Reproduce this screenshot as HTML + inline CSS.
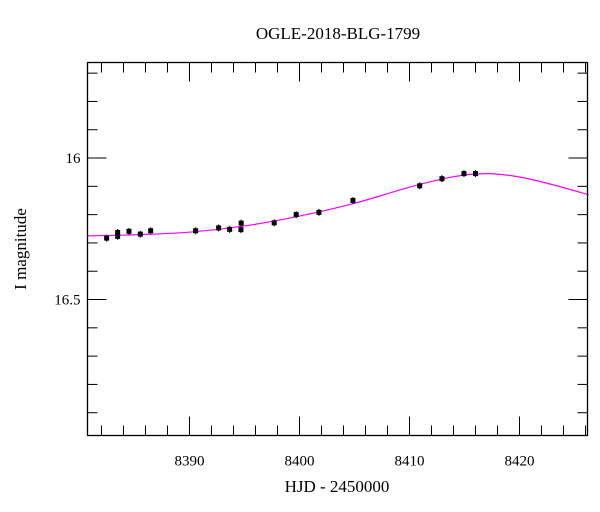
<!DOCTYPE html>
<html><head><meta charset="utf-8"><style>
body{margin:0;background:#fff;}
svg{display:block;font-family:"Liberation Serif",serif;}
</style></head><body>
<svg id="chart" width="600" height="512" viewBox="0 0 600 512" xmlns="http://www.w3.org/2000/svg">
<text x="338" y="39" font-size="17" text-anchor="middle">OGLE-2018-BLG-1799</text>
<text x="337" y="492" font-size="17" text-anchor="middle">HJD - 2450000</text>
<text x="26" y="249" font-size="17" text-anchor="middle" transform="rotate(-90 26 249)">I magnitude</text>
<g id="ticks"></g>
<g id="model"></g>
<g id="points"></g>
<rect x="87.5" y="62.5" width="500" height="373" fill="none" stroke="#000" stroke-width="1.3"/>
</svg>
<script>
const obsDays=[8382.47,8383.47,8383.47,8384.5,8385.53,8386.47,8390.56,8392.65,8393.65,8394.68,8394.7,8397.7,8399.7,8401.77,8404.86,8410.93,8412.95,8414.95,8416.0];
const obsMags=[16.283,16.263,16.277,16.259,16.269,16.257,16.257,16.247,16.252,16.253,16.230,16.229,16.200,16.192,16.150,16.098,16.073,16.055,16.055];
const modelDays=[8380.7,8385,8390,8395,8400,8405,8410,8414,8417,8420,8423,8426.3];
const modelMags=[16.275,16.271,16.262,16.240,16.205,16.160,16.103,16.066,16.055,16.067,16.094,16.13];
const xMajor=[8390,8400,8410,8420];
const yMajor=[16,16.5];
const yMajorLabels=["16","16.5"];

const X0=87.5,X1=587.5,Y0=62.5,Y1=435.5;
const dMin=8380.73,dMax=8426.18,mTop=15.6624,mBot=16.9805;
const xs=d=>X0+(d-dMin)/(dMax-dMin)*(X1-X0);
const ys=m=>Y0+(m-mTop)/(mBot-mTop)*(Y1-Y0);
const NS="http://www.w3.org/2000/svg";
function mk(tag,parent,attrs){const e=document.createElementNS(NS,tag);for(const k in attrs)e.setAttribute(k,attrs[k]);parent.appendChild(e);return e;}

const tg=document.getElementById('ticks');
for(let d=8382;d<=8426;d+=2){
  const major=(d%10===0);const L=major?19:10;const x=xs(d);
  const t1=mk('line',tg,{x1:x,x2:x,y1:Y1,y2:Y1-L,stroke:'#000','stroke-width':1});
  
  
  const t2=mk('line',tg,{x1:x,x2:x,y1:Y0,y2:Y0+L,stroke:'#000','stroke-width':1});
  
  
}
xMajor.forEach(d=>{
  const t=mk('text',tg,{x:xs(d),y:Y1+30,'font-size':15,'text-anchor':'middle'});
  t.textContent=String(d);
  
  
});
for(let i=7;i<=19;i++){
  const mv=Math.round((15.6+0.1*(i-6))*10)/10;
  if(mv<=mTop||mv>=mBot)continue;
  const major=Math.abs(mv*2-Math.round(mv*2))<1e-6;const L=major?19:10;const y=ys(mv);
  const t1=mk('line',tg,{x1:X0,x2:X0+L,y1:y,y2:y,stroke:'#000','stroke-width':1});
  
  
  const t2=mk('line',tg,{x1:X1,x2:X1-L,y1:y,y2:y,stroke:'#000','stroke-width':1});
  
  
}
yMajor.forEach((m,i)=>{
  const t=mk('text',tg,{x:X0-7,y:ys(m)+5,'font-size':15,'text-anchor':'end'});
  t.textContent=yMajorLabels[i];
  
  
});

const mg=document.getElementById('model');
const P=modelDays.map((d,i)=>[xs(d),ys(modelMags[i])]);
let dstr=`M${P[0][0]},${P[0][1]}`;
for(let i=0;i<P.length-1;i++){
  const p0=P[Math.max(0,i-1)],p1=P[i],p2=P[i+1],p3=P[Math.min(P.length-1,i+2)];
  const c1=[p1[0]+(p2[0]-p0[0])/6,p1[1]+(p2[1]-p0[1])/6];
  const c2=[p2[0]-(p3[0]-p1[0])/6,p2[1]-(p3[1]-p1[1])/6];
  dstr+=` C${c1[0]},${c1[1]} ${c2[0]},${c2[1]} ${p2[0]},${p2[1]}`;
}
const path=mk('path',mg,{d:dstr,fill:'none',stroke:'#ff00ff','stroke-width':1.2});



const pg=document.getElementById('points');
obsDays.forEach((d,i)=>{
  const x=xs(d),y=ys(obsMags[i]);
  const e=mk('line',pg,{x1:x,x2:x,y1:y-3.5,y2:y+3.5,stroke:'#000','stroke-width':1});
  
  
  const r=mk('rect',pg,{x:x-2.5,y:y-2.5,width:5,height:5,fill:'#000'});
  
  
});
</script>
</body></html>
